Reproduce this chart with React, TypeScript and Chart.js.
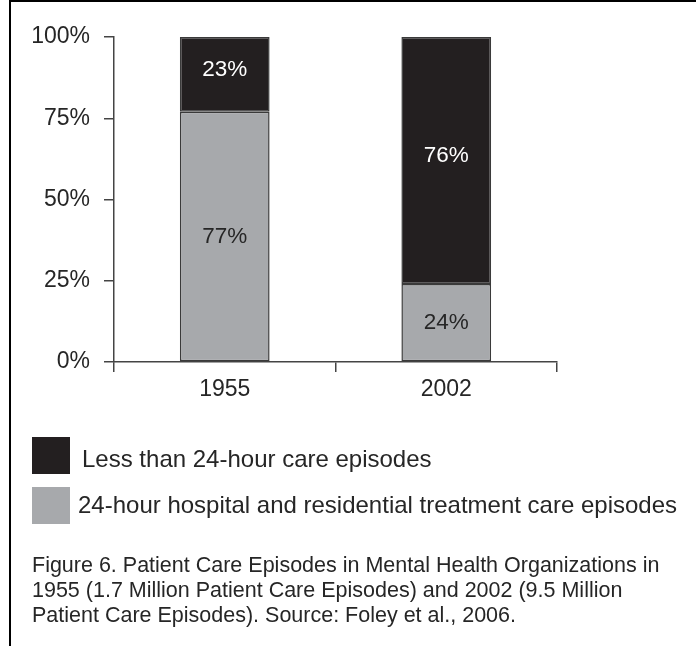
import React, { useEffect, useRef } from "react";
import { Chart, registerables } from "chart.js";

Chart.register(...registerables);

const categories = ["1955", "2002"];
const hospital24 = [77, 24];
const lessThan24 = [23, 76];
const yTickValues = [0, 25, 50, 75, 100];
const legendLabels = [
  "Less than 24-hour care episodes",
  "24-hour hospital and residential treatment care episodes",
];
const captionLines = [
  "Figure 6. Patient Care Episodes in Mental Health Organizations in",
  "1955 (1.7 Million Patient Care Episodes) and 2002 (9.5 Million",
  "Patient Care Episodes). Source: Foley et al., 2006.",
];

const DARK = "#231f20";
const GRAY = "#a7a9ac";
const TEXT = "#262626";
const FONT = "'Liberation Sans', Arial, Helvetica, sans-serif";

const valueLabels = {
  id: "valueLabels",
  afterDatasetsDraw(chart: any) {
    const ctx = chart.ctx;
    ctx.save();
    ctx.font = `22.5px ${FONT}`;
    ctx.textAlign = "center";
    ctx.textBaseline = "middle";
    chart.data.datasets.forEach((ds: any, di: number) => {
      const meta = chart.getDatasetMeta(di);
      meta.data.forEach((el: any, i: number) => {
        const cy = (el.y + el.base) / 2 + (ds.labelShift || 0);
        ctx.fillStyle = ds.labelColor;
        ctx.fillText(ds.data[i] + "%", el.x, cy);
      });
    });
    ctx.restore();
  },
};

const legendCaption = {
  id: "legendCaption",
  afterDraw(chart: any) {
    const ctx = chart.ctx;
    ctx.save();
    const items = [
      { color: DARK, label: legendLabels[0], top: 437, tx: 82, base: 467 },
      { color: GRAY, label: legendLabels[1], top: 487, tx: 78, base: 513 },
    ];
    ctx.font = `24px ${FONT}`;
    ctx.textBaseline = "alphabetic";
    ctx.textAlign = "left";
    items.forEach((it) => {
      ctx.fillStyle = it.color;
      ctx.fillRect(32, it.top, 38, 37);
      ctx.fillStyle = TEXT;
      ctx.fillText(it.label, it.tx, it.base);
    });
    ctx.font = `21.5px ${FONT}`;
    const ys = [572, 597, 622];
    captionLines.forEach((line, i) => {
      ctx.fillText(line, 32, ys[i]);
    });
    ctx.restore();
  },
};

export default function App() {
  const ref = useRef<HTMLCanvasElement | null>(null);

  useEffect(() => {
    if (!ref.current) return;
    const chart = new Chart(ref.current, {
      type: "bar",
      data: {
        labels: categories,
        datasets: [
          {
            label: legendLabels[1],
            data: hospital24,
            backgroundColor: GRAY,
            borderColor: "#3a3a3a",
            borderWidth: 1.5,
            borderSkipped: false,
            barPercentage: 0.405,
            categoryPercentage: 1,
            labelColor: TEXT,
            labelShift: 0,
          } as any,
          {
            label: legendLabels[0],
            data: lessThan24,
            backgroundColor: DARK,
            borderColor: "#3a3a3a",
            borderWidth: 1.5,
            borderSkipped: false,
            barPercentage: 0.405,
            categoryPercentage: 1,
            labelColor: "#ffffff",
            labelShift: -5,
          } as any,
        ],
      },
      options: {
        responsive: false,
        animation: false,
        events: [],
        layout: { padding: { top: 37, right: 139, bottom: 244, left: 0 } },
        plugins: {
          legend: { display: false },
          tooltip: { enabled: false },
        },
        scales: {
          x: {
            stacked: true,
            afterFit: (s: any) => {
              s.height = 40;
            },
            grid: {
              offset: true,
              drawOnChartArea: false,
              drawTicks: true,
              tickLength: 10,
              color: "#444",
              lineWidth: 1.5,
            },
            border: { display: true, color: "#444", width: 1.5 },
            ticks: {
              color: TEXT,
              font: { family: FONT, size: 23 },
              padding: 4,
            },
          },
          y: {
            stacked: true,
            min: 0,
            max: 100,
            afterFit: (s: any) => {
              s.width = 114;
            },
            afterBuildTicks: (s: any) => {
              s.ticks = yTickValues.map((v) => ({ value: v }));
            },
            grid: {
              drawOnChartArea: false,
              drawTicks: true,
              tickLength: 10,
              color: "#444",
              lineWidth: 1.5,
            },
            border: { display: true, color: "#444", width: 1.5 },
            ticks: {
              color: TEXT,
              font: { family: FONT, size: 23 },
              padding: 14,
              callback: (v: any) => v + "%",
            },
          },
        },
      },
      plugins: [valueLabels, legendCaption],
    });
    return () => chart.destroy();
  }, []);

  return (
    <div
      style={{
        position: "fixed",
        left: 0,
        top: 0,
        width: 696,
        height: 646,
        background: "#fff",
        overflow: "hidden",
      }}
    >
      <canvas
        ref={ref}
        width={696}
        height={646}
        style={{ position: "absolute", left: 0, top: 0, width: 696, height: 646 }}
      />
      <div
        style={{
          position: "absolute",
          left: 9,
          top: 0,
          width: 700,
          height: 660,
          borderTop: "2px solid #000",
          borderLeft: "2px solid #000",
          boxSizing: "border-box",
          pointerEvents: "none",
        }}
      />
    </div>
  );
}
